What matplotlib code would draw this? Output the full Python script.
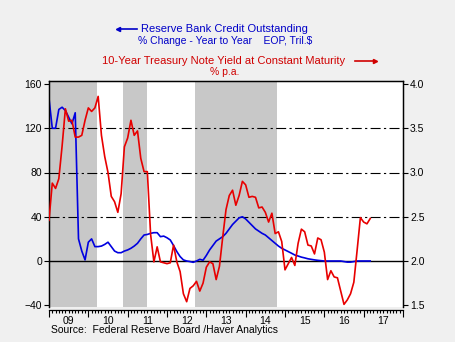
import matplotlib.pyplot as plt
import numpy as np

plt.rcParams['font.family'] = ['Liberation Sans', 'DejaVu Sans']

# monthly, Jan 2009 .. Mar 2017
start_year = 2009
year_labels = ['09', '10', '11', '12', '13', '14', '15', '16', '17']
qe_periods = [(2009.0, 2010.22), (2010.88, 2011.49), (2012.71, 2014.80)]

# Reserve Bank Credit Outstanding, % change y/y (left axis)
reserve_credit_yoy = [
    147, 120, 120, 137, 139, 136, 130, 124, 134, 20, 9, 1,
    17, 20, 13, 13, 13.5, 15, 17, 13, 9, 7.5, 7.5, 9,
    10, 11.5, 13.5, 16, 20, 23.5, 24, 25, 25.6, 25.6, 22, 22.5,
    21, 19, 14, 8.5, 4, 1, 0, -0.5, -1.2, 0, 1.5, 0.7,
    5, 10, 14, 18, 20, 22, 25, 29, 33, 36, 39, 40,
    38, 35, 32, 29, 27, 25, 23.5, 21, 18.5, 16, 13.5, 11.5,
    10, 8.5, 7, 5.4, 4.5, 3.5, 2.8, 2, 1.5, 1, 0.6, 0.3,
    0, 0, 0, 0, 0, 0, -0.5, -1, -1, -0.5, 0, 0,
    0, 0, 0,
]

# 10-Year Treasury Note Yield at Constant Maturity, % p.a. (right axis)
treasury_10y = [
    2.46, 2.88, 2.82, 2.93, 3.30, 3.72, 3.58, 3.59, 3.40, 3.40, 3.42, 3.59,
    3.73, 3.69, 3.73, 3.86, 3.42, 3.18, 3.00, 2.73, 2.67, 2.55, 2.76, 3.29,
    3.39, 3.59, 3.42, 3.47, 3.16, 3.01, 3.01, 2.30, 1.99, 2.16, 1.99, 1.98,
    1.97, 1.98, 2.18, 1.99, 1.88, 1.63, 1.54, 1.69, 1.72, 1.77, 1.66, 1.75,
    1.93, 1.99, 1.97, 1.79, 1.94, 2.27, 2.58, 2.74, 2.80, 2.63, 2.74, 2.90,
    2.86, 2.72, 2.73, 2.72, 2.60, 2.61, 2.55, 2.44, 2.54, 2.31, 2.33, 2.22,
    1.90, 1.97, 2.04, 1.95, 2.20, 2.36, 2.33, 2.18, 2.17, 2.08, 2.26, 2.24,
    2.10, 1.79, 1.89, 1.82, 1.81, 1.66, 1.51, 1.56, 1.63, 1.76, 2.12, 2.49,
    2.44, 2.42, 2.48,
]

W, H = 455, 342
def fx(px):
    return px / W
def fy(py):
    return 1 - py / H

dates = start_year + np.arange(len(treasury_10y)) / 12.0

fig = plt.figure(figsize=(W / 100, H / 100), dpi=100, facecolor='#f0f0f0')
ax = fig.add_axes([fx(49), fy(307), (403 - 49) / W, (307 - 81) / H])
ax.set_facecolor('white')

# left scale: 0 at y=261px, 1.10625 px per unit
lo, hi = -(307 - 261) / 1.10625, (261 - 81) / 1.10625
ax.set_ylim(lo, hi)
ax.set_xlim(start_year, start_year + 9)

for a, b in qe_periods:
    ax.axvspan(a, b, color='#c8c8c8', lw=0, zorder=0)

for v in [40, 80, 120]:
    ax.axhline(v, color='black', lw=0.8, dashes=(9, 3, 2, 3), zorder=1)
ax.axhline(0, color='black', lw=1.0, zorder=1)

ax.plot(dates, reserve_credit_yoy, color='#0000e0', lw=1.2, zorder=3)

ax2 = ax.twinx()
ax2.set_ylim(2 + lo / 80, 2 + hi / 80)
ax2.plot(dates, treasury_10y, color='#e80000', lw=1.2, zorder=3)

ax.set_yticks([-40, 0, 40, 80, 120, 160])
ax2.set_yticks([1.5, 2.0, 2.5, 3.0, 3.5, 4.0])
ax2.set_yticklabels(['%.1f' % t for t in [1.5, 2.0, 2.5, 3.0, 3.5, 4.0]])

ax.set_xticks(np.arange(start_year, start_year + 10))
ax.set_xticks(np.arange(start_year, start_year + 9, 1 / 12), minor=True)
ax.set_xticklabels([])
for i, lab in enumerate(year_labels):
    ax.text(start_year + i + 0.5, -0.064, lab, transform=ax.get_xaxis_transform(),
            ha='center', va='center', fontsize=7.5)

ax.tick_params(axis='x', which='major', direction='out', length=5, width=0.8)
ax.tick_params(axis='x', which='minor', direction='out', length=2.5, width=0.8)
ax.tick_params(axis='y', direction='out', length=3.5, width=0.8, labelsize=7.5, pad=1.5)
ax2.tick_params(axis='y', direction='out', length=3.5, width=0.8, labelsize=7.5, pad=1.5)

for a in (ax, ax2):
    for s in a.spines.values():
        s.set_linewidth(0.9)
ax.spines['bottom'].set_position(('outward', 2))
ax2.spines['bottom'].set_visible(False)

blue_t = '#0000c8'
red_t = '#d00000'
fig.text(fx(224), fy(29), 'Reserve Bank Credit Outstanding', color=blue_t,
         ha='center', va='center', fontsize=8)
fig.text(fx(225), fy(41), '% Change - Year to Year    EOP, Tril.$', color=blue_t,
         ha='center', va='center', fontsize=7.5)
fig.text(fx(224), fy(61), '10-Year Treasury Note Yield at Constant Maturity', color=red_t,
         ha='center', va='center', fontsize=8)
fig.text(fx(225), fy(72), '% p.a.', color=red_t, ha='center', va='center', fontsize=7.5)

fig.add_artist(plt.Line2D([fx(119), fx(137)], [fy(29), fy(29)], color=blue_t, lw=1.2))
fig.add_artist(plt.Line2D([fx(117.5)], [fy(29)], marker='<', ms=3, color=blue_t, lw=0))
fig.add_artist(plt.Line2D([fx(355), fx(373)], [fy(61), fy(61)], color=red_t, lw=1.2))
fig.add_artist(plt.Line2D([fx(374.5)], [fy(61)], marker='>', ms=3, color=red_t, lw=0))

fig.text(fx(51), fy(330), 'Source:  Federal Reserve Board /Haver Analytics',
         ha='left', va='center', fontsize=7.5)

fig.savefig('out.png', dpi=100, facecolor=fig.get_facecolor())
